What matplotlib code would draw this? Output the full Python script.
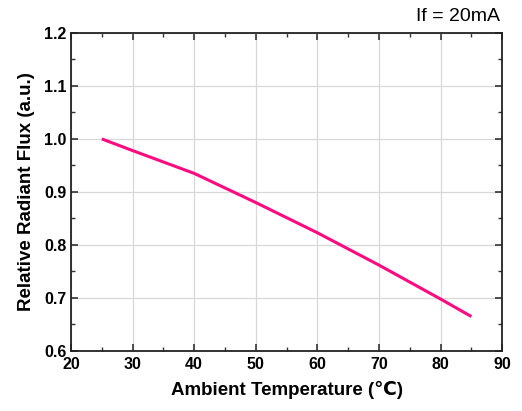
import matplotlib
matplotlib.use("Agg")
import matplotlib.pyplot as plt
from matplotlib.ticker import MultipleLocator

plt.rcParams['font.family'] = ['Liberation Sans', 'DejaVu Sans']

temperature = [25, 30, 40, 50, 60, 70, 80, 85]
flux = [1.0, 0.978, 0.935, 0.88, 0.823, 0.762, 0.698, 0.665]

fig = plt.figure(figsize=(5.22, 4.11), dpi=100)
ax = fig.add_axes([0.136, 0.146, 0.826, 0.774])
ax.plot(temperature, flux, color='#ff0a80', lw=2.2, solid_capstyle='butt')
ax.set_xlim(20, 90)
ax.set_ylim(0.6, 1.2)
ax.xaxis.set_major_locator(MultipleLocator(10))
ax.xaxis.set_minor_locator(MultipleLocator(5))
ax.yaxis.set_major_locator(MultipleLocator(0.1))
ax.yaxis.set_minor_locator(MultipleLocator(0.05))
ax.grid(True, which='major', color='#d8d8d8', lw=0.9)
ax.set_axisbelow(True)
ax.tick_params(which='both', direction='in', top=True, right=True, color='#333333')
ax.tick_params(which='major', length=5, width=1.2, labelsize=11.5)
ax.tick_params(axis='x', which='major', pad=4)
ax.tick_params(axis='y', which='major', pad=3)
ax.tick_params(which='minor', length=3, width=1.0)
for lbl in ax.get_xticklabels() + ax.get_yticklabels():
    lbl.set_fontweight('bold')
for s in ax.spines.values():
    s.set_linewidth(1.3)
    s.set_color('#222222')
ax.yaxis.set_major_formatter(matplotlib.ticker.FormatStrFormatter('%.1f'))
ax.set_xlabel('Ambient Temperature (℃)', fontsize=13.5, fontweight='bold', labelpad=7)
ax.set_ylabel('Relative Radiant Flux (a.u.)', fontsize=13.5, fontweight='bold', labelpad=7)
fig.text(0.958, 0.94, 'If = 20mA', ha='right', va='bottom', fontsize=14)
fig.savefig('out.png', dpi=100)
